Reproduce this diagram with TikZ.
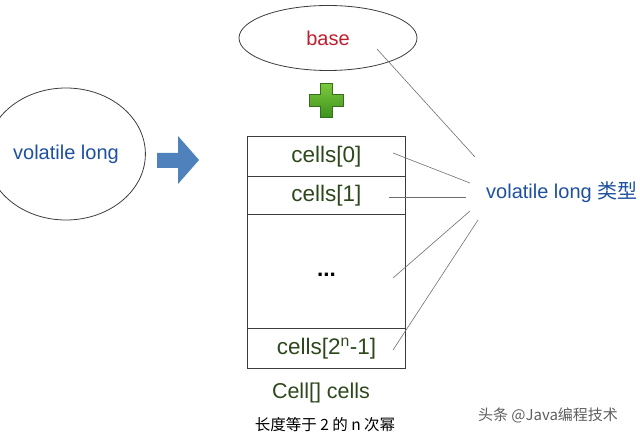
\documentclass[tikz,border=0pt]{standalone}
\usepackage{fontspec}
\setmainfont{Liberation Sans}
\newfontfamily\cjk{Noto Sans CJK SC}
\usetikzlibrary{shapes.geometric}
\definecolor{basered}{RGB}{190,30,45}
\definecolor{txtblue}{RGB}{30,80,160}
\definecolor{cellgreen}{RGB}{45,72,28}
\definecolor{arrowblue}{RGB}{79,129,189}
\definecolor{plustop}{RGB}{125,200,60}
\definecolor{plusbot}{RGB}{60,145,30}
\definecolor{plusdark}{RGB}{55,110,30}
\definecolor{linegray}{RGB}{110,110,110}
\definecolor{boxgray}{RGB}{60,60,60}
\definecolor{markgray}{RGB}{95,95,95}
\begin{document}
\begin{tikzpicture}[x=1pt,y=-1pt,
  cellbox/.style={draw=boxgray, line width=0.9pt, minimum width=158pt, inner sep=0pt,
    font=\fontsize{22.5}{26}\selectfont, text=cellgreen, anchor=north west},
  conn/.style={draw=linegray, line width=0.6pt},
  bigtext/.style={font=\fontsize{20}{24}\selectfont}]
\useasboundingbox (0,0) rectangle (640,438);
% base ellipse
\node (base) [ellipse, draw=boxgray, line width=0.8pt, minimum width=178pt, minimum height=65pt,
  bigtext, text=basered] at (328,38) {base};
% left circle
\node (vl) [ellipse, draw=boxgray, line width=0.8pt, minimum width=124pt, minimum height=132pt,
  bigtext, text=txtblue] at (66,154) {volatile long};
% blue arrow
\fill[arrowblue] (157,153) -- (178,153) -- (178,136) -- (199,160) -- (178,184) -- (178,168) -- (157,168) -- cycle;
% green plus
\shade[top color=plustop, bottom color=plusbot, draw=plusdark, line width=0.5pt]
  (320,83.5) -- (332,83.5) -- (332,94.5) -- (343,94.5) -- (343,106.5) -- (332,106.5) -- (332,117.5)
  -- (320,117.5) -- (320,106.5) -- (309,106.5) -- (309,94.5) -- (320,94.5) -- cycle;
% cells box
\node (c0) [cellbox, minimum height=40pt] at (247,136) {cells[0]};
\node (c1) [cellbox, minimum height=38pt] at (247,176) {cells[1]};
\node (cd) [cellbox, minimum height=114pt, text=black, text height=3pt, text depth=0pt] at (247,214) {\raisebox{-4pt}{\textbf{...}}};
\node (cl) [cellbox, minimum height=40pt] at (247,328) {cells[2\textsuperscript{n}-1]};
% captions
\node (cap) [font=\fontsize{21.5}{24}\selectfont, text=cellgreen] at (321,393) {Cell[] cells};
\node (sub) [font=\fontsize{15.5}{18}\selectfont\cjk] at (325,425) {长度等于 2 的 n 次幂};
% right label
\node (lbl) [anchor=west, inner sep=0pt, bigtext, text=txtblue] at (486,192) {volatile long {\cjk 类型}};
% watermark
\node (wm) [font=\fontsize{15}{18}\selectfont\cjk, text=markgray] at (548,415) {头条 @Java编程技术};
% connectors
\coordinate (b0) at (377,49);  \coordinate (b1) at (475,157);
\coordinate (p0) at (393,153); \coordinate (q0) at (470,183);
\coordinate (p1) at (389,197); \coordinate (q1) at (466,197);
\coordinate (p2) at (393,278); \coordinate (q2) at (470,211);
\coordinate (p3) at (393,350); \coordinate (q3) at (478,220);
\draw[conn] (b0) -- (b1);
\draw[conn] (p0) -- (q0);
\draw[conn] (p1) -- (q1);
\draw[conn] (p2) -- (q2);
\draw[conn] (p3) -- (q3);
\end{tikzpicture}
\end{document}
